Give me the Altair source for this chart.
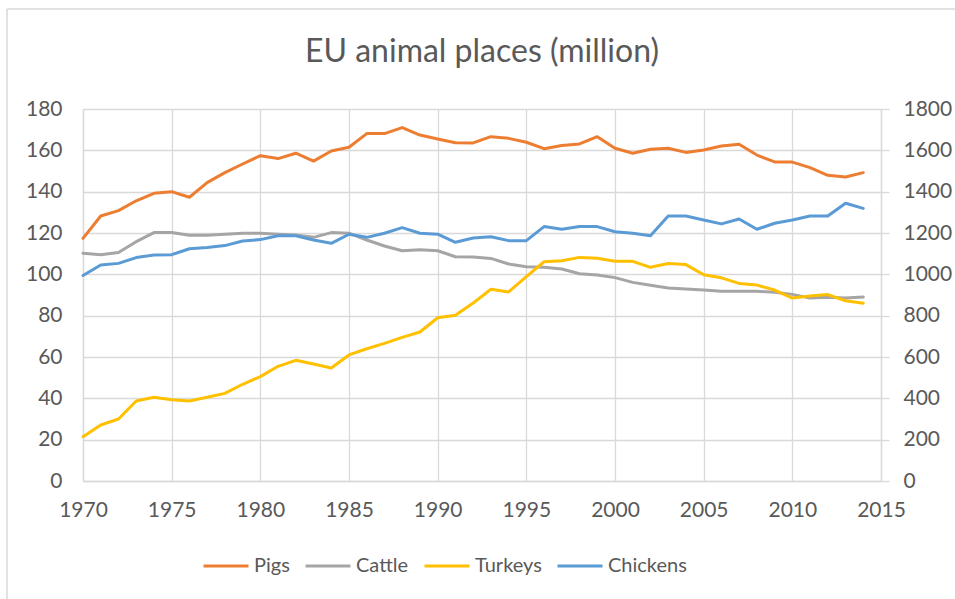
import altair as alt
import pandas as pd

# Yearly stock of farm animals in the EU (million head)
years = list(range(1970, 2015))

pigs = [117.4, 128.2, 130.8, 135.6, 139.2, 140.0, 137.3, 144.4, 149.2, 153.4,
        157.4, 156.0, 158.6, 154.8, 159.7, 161.5, 168.1, 168.1, 171.0, 167.4,
        165.5, 163.7, 163.6, 166.6, 165.8, 163.9, 160.8, 162.3, 163.1, 166.6,
        161.0, 158.6, 160.5, 161.0, 159.0, 160.2, 162.1, 162.9, 157.7, 154.4,
        154.3, 151.6, 147.9, 147.1, 149.2]

cattle = [110.2, 109.5, 110.6, 115.8, 120.2, 120.2, 118.9, 118.9, 119.4, 119.9,
          119.9, 119.4, 119.0, 117.9, 120.2, 119.9, 116.6, 113.7, 111.4, 111.9,
          111.4, 108.5, 108.4, 107.7, 105.0, 103.7, 103.4, 102.6, 100.3, 99.7,
          98.4, 96.1, 94.7, 93.4, 92.9, 92.4, 91.8, 91.8, 91.8, 91.3,
          90.3, 88.5, 88.9, 88.5, 89.0]

turkeys = [21.4, 27.1, 30.0, 38.7, 40.5, 39.3, 38.7, 40.5, 42.4, 46.8,
           50.5, 55.5, 58.4, 56.6, 54.7, 61.0, 64.0, 66.6, 69.5, 72.1,
           79.0, 80.2, 86.1, 92.8, 91.5, 98.9, 106.1, 106.6, 108.2, 107.8,
           106.3, 106.3, 103.4, 105.2, 104.7, 99.8, 98.3, 95.6, 94.8, 92.4,
           88.5, 89.5, 90.2, 87.2, 86.0]

# Chickens are plotted against the secondary (right) axis
chickens = [994, 1045, 1053, 1081, 1094, 1095, 1124, 1130, 1139, 1161,
            1168, 1187, 1187, 1166, 1150, 1194, 1179, 1199, 1226, 1199,
            1194, 1155, 1176, 1182, 1163, 1163, 1231, 1218, 1231, 1231,
            1206, 1199, 1187, 1282, 1282, 1263, 1244, 1268, 1218, 1247,
            1263, 1282, 1282, 1344, 1319]

series_names = ["Pigs", "Cattle", "Turkeys", "Chickens"]
series_colors = ["#ED7D31", "#A5A5A5", "#FFC000", "#5B9BD5"]

left_ticks = list(range(0, 181, 20))
right_ticks = list(range(0, 1801, 200))
year_ticks = list(range(1970, 2016, 5))

FONT = "Lato"
TEXT = "#595959"
GRID = "#D9D9D9"

primary = pd.DataFrame({
    "year": years * 3,
    "value": pigs + cattle + turkeys,
    "series": ["Pigs"] * len(years) + ["Cattle"] * len(years) + ["Turkeys"] * len(years),
})
secondary = pd.DataFrame({"year": years, "value": chickens, "series": ["Chickens"] * len(years)})

x_enc = alt.X(
    "year:Q",
    scale=alt.Scale(domain=[1970, 2015], nice=False, zero=False),
    axis=alt.Axis(values=year_ticks, format="d", title=None, ticks=False,
                  labelPadding=18, labelFlush=False, grid=True),
)

color_enc = alt.Color(
    "series:N",
    scale=alt.Scale(domain=series_names, range=series_colors),
    legend=alt.Legend(
        title=None, orient="none", legendX=119, legendY=433,
        direction="horizontal", columns=4,
        symbolType="stroke", symbolSize=2025, symbolStrokeWidth=3,
        labelFont=FONT, labelFontSize=20, labelColor=TEXT,
        labelOffset=4, columnPadding=9,
    ),
)

line_style = dict(strokeWidth=3, strokeCap="round", strokeJoin="round")

y_left = alt.Y(
    "value:Q",
    scale=alt.Scale(domain=[0, 180], nice=False),
    axis=alt.Axis(values=left_ticks, format="d", title=None, ticks=False,
                  labelPadding=21, grid=True),
)

left_layers = [
    alt.Chart(primary)
    .transform_filter(alt.datum.series == name)
    .mark_line(**line_style)
    .encode(x=x_enc, y=y_left, color=color_enc)
    for name in ["Pigs", "Cattle", "Turkeys"]
]
left = alt.layer(*left_layers)

right = alt.Chart(secondary).mark_line(**line_style).encode(
    x=x_enc,
    y=alt.Y(
        "value:Q",
        scale=alt.Scale(domain=[0, 1800], nice=False),
        axis=alt.Axis(orient="right", values=right_ticks, format="d", title=None,
                      ticks=True, tickSize=8, labelPadding=14, grid=False),
    ),
    color=color_enc,
)

# Light frame around the chart area (left and top edges)
frame_src = pd.DataFrame({"k": [0]})
frame_left = alt.Chart(frame_src).mark_rule(color=GRID, strokeWidth=1.5).encode(
    x=alt.value(-76), y=alt.value(-100), y2=alt.value(495)
)
frame_top = alt.Chart(frame_src).mark_rule(color=GRID, strokeWidth=1.5).encode(
    x=alt.value(-76), x2=alt.value(880), y=alt.value(-100)
)

chart = (
    alt.layer(frame_left, frame_top, alt.layer(left, right).resolve_scale(y="independent"))
    .properties(
        width=798,
        height=372,
        title=alt.TitleParams(
            "EU animal places (million)", font=FONT, fontSize=32, fontWeight="normal",
            color=TEXT, anchor="middle", frame="group", baseline="alphabetic",
            offset=0, dy=86,
        ),
        padding={"left": 83, "top": 109, "right": 74, "bottom": 118},
        autosize=alt.AutoSizeParams(type="none"),
    )
    .configure_view(strokeWidth=0)
    .configure_axis(
        labelFont=FONT, labelFontSize=21, labelColor=TEXT,
        gridColor=GRID, gridWidth=1.3, domainColor=GRID, domainWidth=1.3,
        tickColor=GRID, tickWidth=1.3,
    )
)

chart.save("out.html", embed_options={"renderer": "svg", "actions": False})
